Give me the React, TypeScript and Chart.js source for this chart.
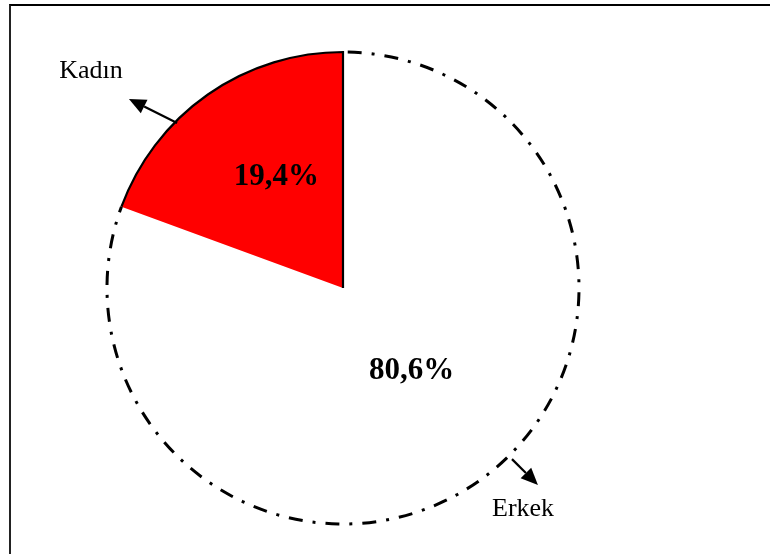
import React, { useEffect, useRef } from "react";
import { Chart, registerables } from "chart.js";

Chart.register(...registerables);

const categories = ["Erkek", "Kadın"];
const values = [80.6, 19.4];
const valueLabels = ["80,6%", "19,4%"];
const sliceColors = ["#ffffff", "#ff0000"];

const FONT = '"Liberation Serif", "Times New Roman", serif';

function drawArrow(ctx: CanvasRenderingContext2D, x1: number, y1: number, x2: number, y2: number) {
  const ang = Math.atan2(y2 - y1, x2 - x1);
  const headLen = 17;
  const headW = 7.5;
  const bx = x2 - Math.cos(ang) * headLen;
  const by = y2 - Math.sin(ang) * headLen;
  ctx.beginPath();
  ctx.moveTo(x1, y1);
  ctx.lineTo(bx, by);
  ctx.lineWidth = 2.2;
  ctx.strokeStyle = "#000";
  ctx.stroke();
  ctx.beginPath();
  ctx.moveTo(x2, y2);
  ctx.lineTo(bx + Math.cos(ang + Math.PI / 2) * headW, by + Math.sin(ang + Math.PI / 2) * headW);
  ctx.lineTo(bx - Math.cos(ang + Math.PI / 2) * headW, by - Math.sin(ang + Math.PI / 2) * headW);
  ctx.closePath();
  ctx.fillStyle = "#000";
  ctx.fill();
}

const pieDecor = {
  id: "pieDecor",
  afterDatasetsDraw(chart: any) {
    const ctx: CanvasRenderingContext2D = chart.ctx;
    const meta = chart.getDatasetMeta(0);
    const erkek = meta.data[0];
    const kadin = meta.data[1];
    const cx = erkek.x;
    const cy = erkek.y;
    const r = erkek.outerRadius;
    ctx.save();
    // dash-dot outline of the Erkek arc
    ctx.strokeStyle = "#000";
    ctx.lineWidth = 3;
    ctx.setLineDash([14, 10, 3, 10]);
    ctx.beginPath();
    ctx.arc(cx, cy, r, erkek.startAngle + 0.02, erkek.endAngle);
    ctx.stroke();
    ctx.setLineDash([]);
    // solid outline of the Kadın arc and its right edge
    ctx.lineWidth = 2.2;
    ctx.beginPath();
    ctx.arc(kadin.x, kadin.y, kadin.outerRadius, kadin.startAngle, kadin.endAngle);
    ctx.lineTo(kadin.x, kadin.y);
    ctx.stroke();

    // value labels
    ctx.fillStyle = "#000";
    ctx.font = `bold 31px ${FONT}`;
    ctx.textAlign = "center";
    ctx.textBaseline = "alphabetic";
    meta.data.forEach((el: any, i: number) => {
      const p = el.tooltipPosition(false);
      ctx.fillText(valueLabels[i], p.x + 1, p.y - 6);
    });

    // category labels with arrows
    ctx.font = `26px ${FONT}`;
    // Kadın
    drawArrow(ctx, cx - 0.703 * r, cy - 0.699 * r, cx - 0.907 * r, cy - 0.801 * r);
    ctx.fillStyle = "#000";
    ctx.fillText(categories[1], cx - 1.068 * r, cy - 0.89 * r);
    // Erkek
    drawArrow(ctx, cx + 0.716 * r, cy + 0.725 * r, cx + 0.826 * r, cy + 0.835 * r);
    ctx.fillStyle = "#000";
    ctx.fillText(categories[0], cx + 0.763 * r, cy + 0.966 * r);
    ctx.restore();
  },
};

export default function App() {
  const canvasRef = useRef<HTMLCanvasElement | null>(null);

  useEffect(() => {
    const canvas = canvasRef.current;
    if (!canvas) return;
    const chart = new Chart(canvas, {
      type: "pie",
      data: {
        labels: categories,
        datasets: [
          {
            data: values,
            backgroundColor: sliceColors,
            borderWidth: 0,
          },
        ],
      },
      options: {
        responsive: false,
        animation: false,
        rotation: 0,
        layout: { padding: { left: 107, right: 191, top: 52, bottom: 30 } },
        plugins: {
          legend: { display: false },
          tooltip: { enabled: false },
        },
      },
      plugins: [pieDecor],
    });
    return () => chart.destroy();
  }, []);

  return (
    <div
      style={{
        position: "fixed",
        left: 0,
        top: 0,
        width: 770,
        height: 554,
        overflow: "hidden",
        background: "#fff",
      }}
    >
      <div
        style={{
          position: "absolute",
          left: 9,
          top: 4,
          width: 800,
          height: 600,
          borderLeft: "2px solid #222",
          borderTop: "2px solid #000",
        }}
      />
      <canvas
        ref={canvasRef}
        width={770}
        height={554}
        style={{ position: "absolute", left: 0, top: 0, width: 770, height: 554 }}
      />
    </div>
  );
}
